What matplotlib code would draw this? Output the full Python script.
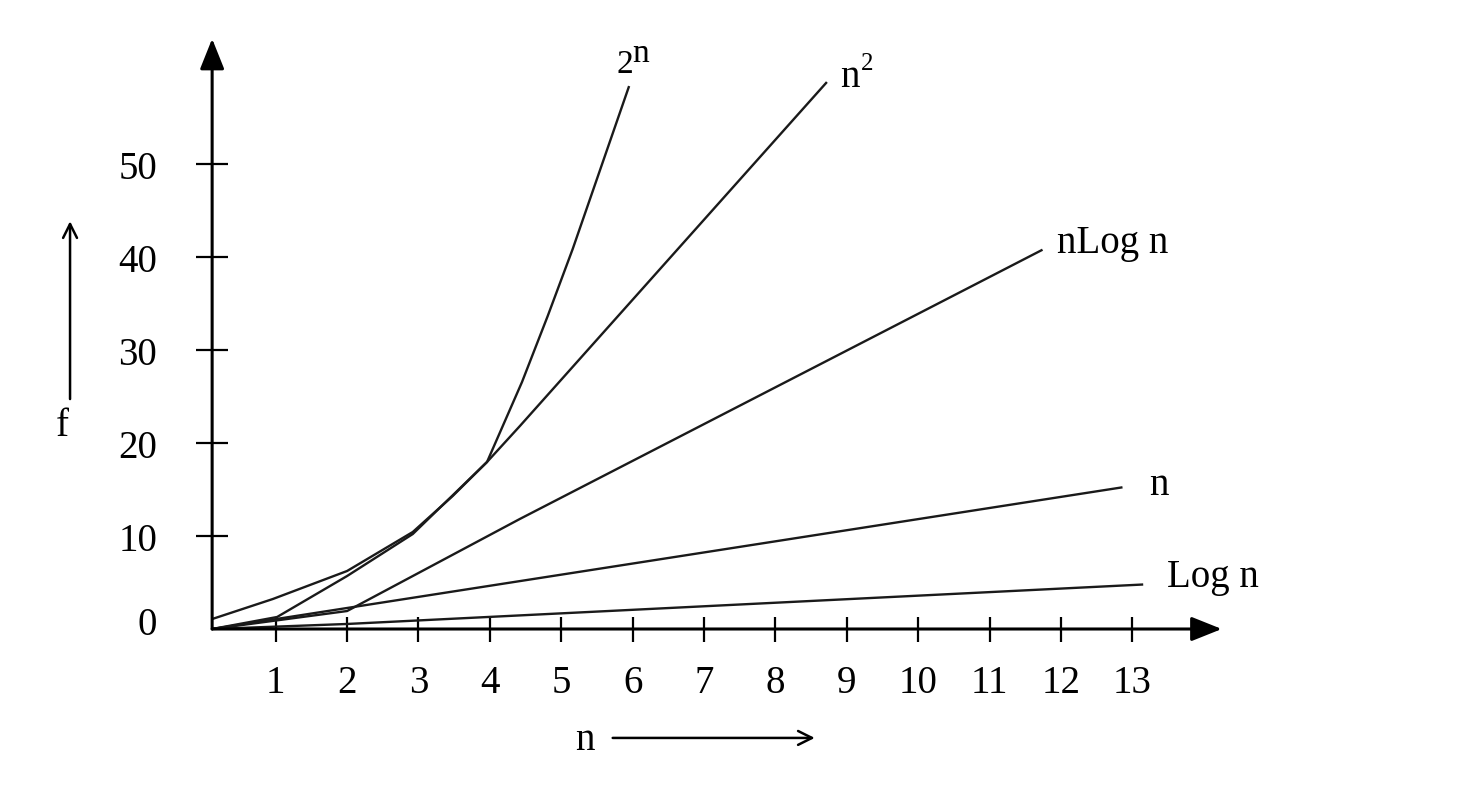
import matplotlib
matplotlib.use("Agg")
import matplotlib.pyplot as plt

# ---- data ----
x_ticks = [1, 2, 3, 4, 5, 6, 7, 8, 9, 10, 11, 12, 13]
y_ticks = [10, 20, 30, 40, 50]

exp_n = [0.11, 0.96, 2.00, 2.92, 3.48, 3.96, 4.45, 4.81, 5.16, 5.95]
exp_f = [1.07, 3.22, 6.23, 10.42, 14.29, 17.94, 26.53, 33.62, 40.82, 58.32]

sq_n = [0.11, 1.02, 2.00, 2.92, 3.96, 4.42, 8.72]
sq_f = [0.00, 1.29, 5.69, 10.20, 17.94, 21.80, 58.75]

nlog_n = [0.11, 2.00, 4.42, 11.74]
nlog_f = [0.00, 1.93, 11.82, 40.74]

lin_n = [0.11, 12.86]
lin_f = [0.00, 15.22]

log_n = [0.11, 2.00, 13.15]
log_f = [0.00, 0.54, 4.78]

# ---- figure ----
plt.rcParams['font.family'] = ['Liberation Serif', 'DejaVu Serif']
FS = 28

fig = plt.figure(figsize=(14.72, 8.04), dpi=100)
ax = fig.add_axes([0, 0, 1, 1])
ax.set_xlim(-2.861, 17.755)
ax.set_ylim(-18.69, 67.67)

origin_x = 0.11
for s in ('top', 'right'):
    ax.spines[s].set_visible(False)
ax.spines['left'].set_position(('data', origin_x))
ax.spines['bottom'].set_position(('data', 0))
ax.spines['left'].set_visible(False)
ax.spines['bottom'].set_visible(False)

# axes with arrowheads
arrow_kw = dict(arrowstyle='-|>,head_length=0.55,head_width=0.22',
                lw=2.2, color='black', shrinkA=0, shrinkB=0,
                mutation_scale=34)
ax.annotate('', xy=(14.25, 0), xytext=(origin_x, 0), arrowprops=arrow_kw)
ax.annotate('', xy=(origin_x, 63.4), xytext=(origin_x, 0), arrowprops=arrow_kw)

ax.set_xticks(x_ticks)
ax.set_xticklabels([str(v) for v in x_ticks])
ax.set_yticks(y_ticks)
ax.set_yticklabels([str(v) for v in y_ticks])
ax.tick_params(axis='x', direction='inout', length=18, width=1.6,
               labelsize=FS, pad=16, color='black')
ax.tick_params(axis='y', direction='inout', length=23, width=1.6,
               labelsize=FS, pad=28, color='black')
ax.text(-0.66, 0.5, '0', fontsize=FS, ha='right', va='center')

line_kw = dict(color='#1a1a1a', lw=1.7, solid_capstyle='butt',
               solid_joinstyle='round')
ax.plot(exp_n, exp_f, **line_kw)
ax.plot(sq_n, sq_f, **line_kw)
ax.plot(nlog_n, nlog_f, **line_kw)
ax.plot(lin_n, lin_f, **line_kw)
ax.plot(log_n, log_f, **line_kw)

# curve labels
ax.text(5.78, 59.8, '2', fontsize=24, ha='left', va='baseline')
ax.text(6.00, 61.0, 'n', fontsize=24, ha='left', va='baseline')
ax.text(8.90, 58.3, 'n', fontsize=FS, ha='left', va='baseline')
ax.text(9.20, 60.15, '2', fontsize=18, ha='left', va='baseline')
ax.text(11.94, 40.5, 'nLog n', fontsize=FS, ha='left', va='baseline')
ax.text(13.23, 14.5, 'n', fontsize=FS, ha='left', va='baseline')
ax.text(13.48, 4.62, 'Log n', fontsize=FS, ha='left', va='baseline')

# axis name labels with arrows
small_arrow = dict(arrowstyle='->,head_length=0.5,head_width=0.25',
                   lw=1.8, color='black', shrinkA=0, shrinkB=0,
                   mutation_scale=20)
ax.text(-1.99, 21.9, 'f', fontsize=FS, ha='center', va='center')
ax.annotate('', xy=(-1.88, 43.8), xytext=(-1.88, 24.7), arrowprops=small_arrow)
ax.text(5.33, -11.9, 'n', fontsize=FS, ha='center', va='center')
ax.annotate('', xy=(8.55, -11.7), xytext=(5.72, -11.7), arrowprops=small_arrow)

fig.savefig('out.png', dpi=100, facecolor='white')
